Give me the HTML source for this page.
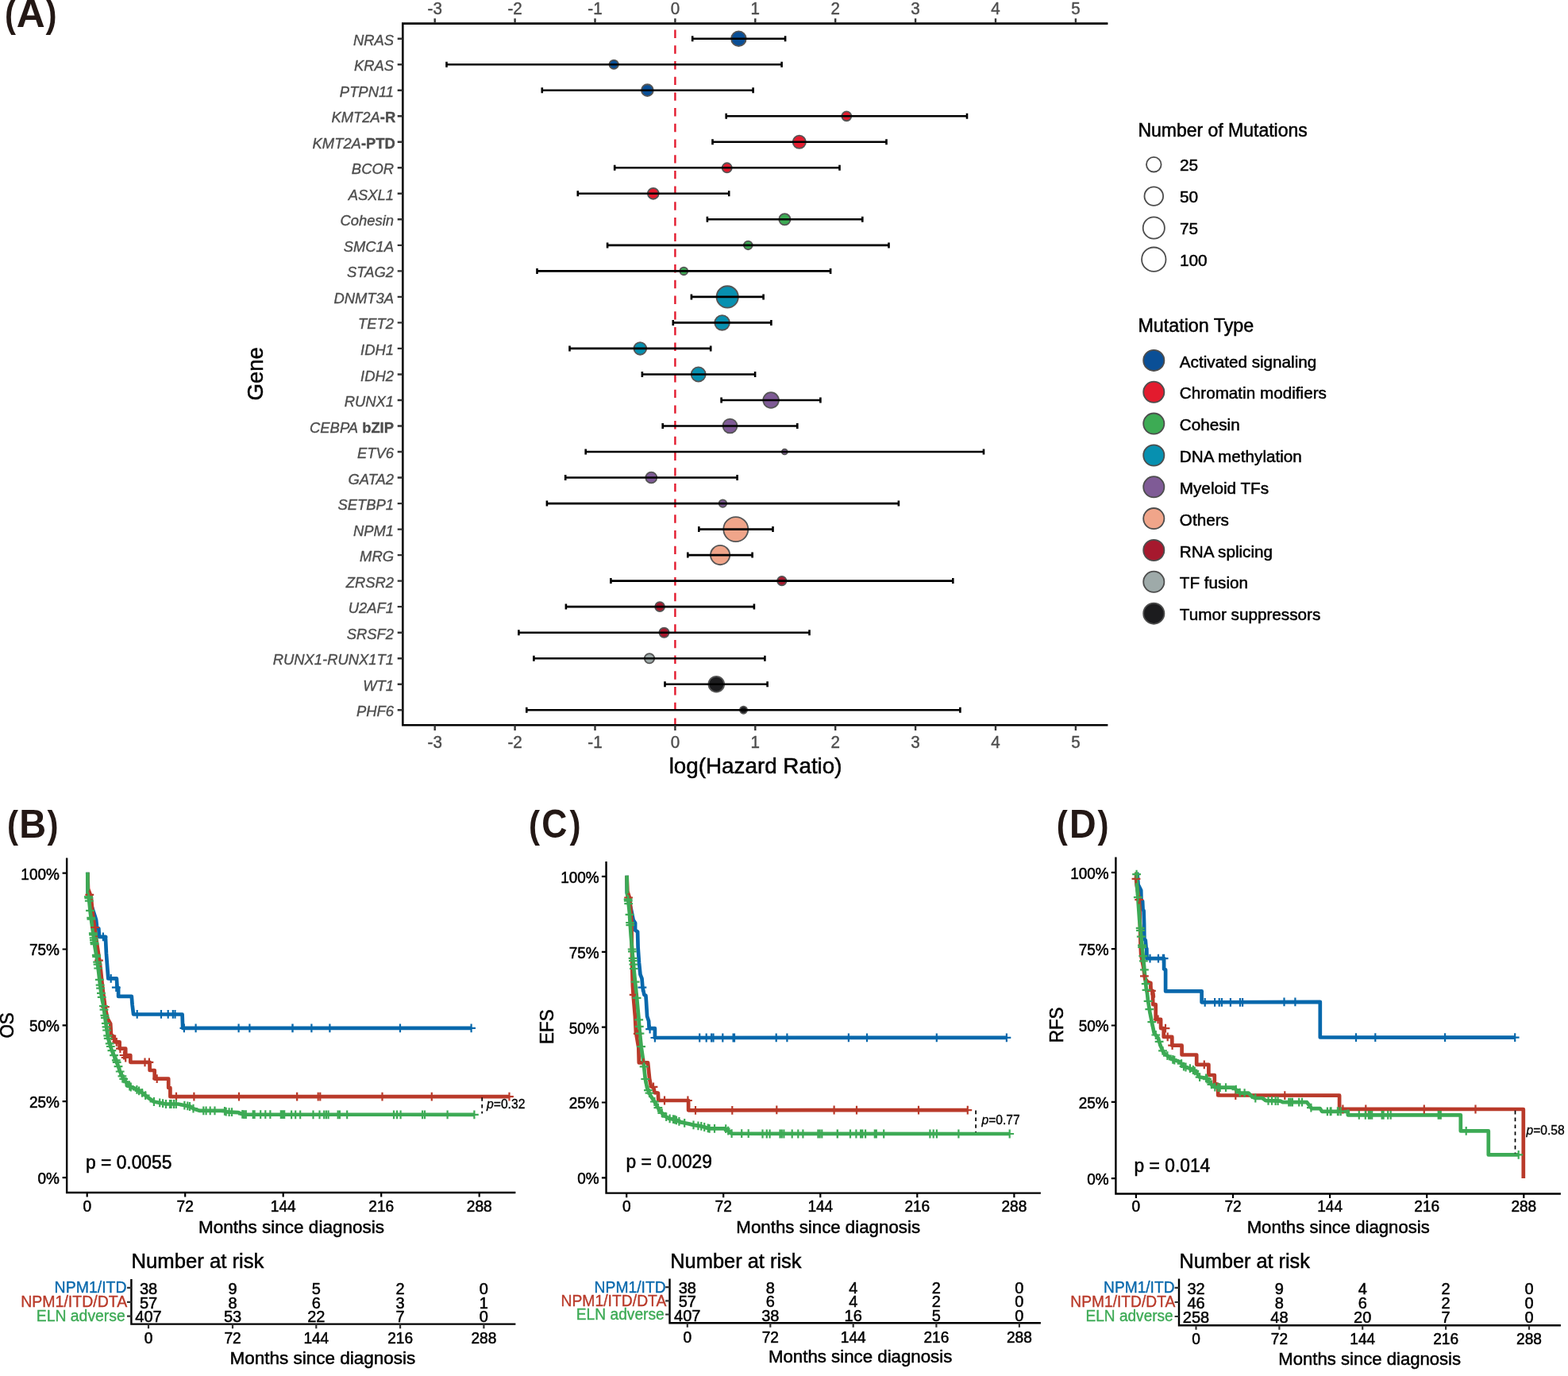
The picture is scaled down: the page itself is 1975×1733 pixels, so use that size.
<!DOCTYPE html>
<html lang="en">
<head>
<meta charset="utf-8">
<title>Figure: mutation hazard ratios and survival curves</title>
<style>
html,body{margin:0;padding:0;background:#fff;}
body{width:1975px;height:1733px;overflow:hidden;}
svg{display:block;font-family:"Liberation Sans", Arial, Helvetica, sans-serif;}
text{white-space:pre;}
</style>
</head>
<body>
<svg xmlns="http://www.w3.org/2000/svg" width="1975" height="1733" viewBox="0 0 1975 1733">
<rect width="1975" height="1733" fill="#fff"/>
<g id="forest">
<line x1="850.4" y1="29.6" x2="850.4" y2="913.2" stroke="#E31B2E" stroke-width="2.4" stroke-dasharray="10.4 9.3" stroke-dashoffset="-8"/>
<circle cx="930.4" cy="48.7" r="9.35" fill="#0A4F96" stroke="#555" stroke-width="1.8"/>
<circle cx="773.2" cy="81.2" r="5.65" fill="#0A4F96" stroke="#555" stroke-width="1.8"/>
<circle cx="815.4" cy="113.7" r="7.45" fill="#0A4F96" stroke="#555" stroke-width="1.8"/>
<circle cx="1066.3" cy="146.3" r="5.95" fill="#E31B2E" stroke="#555" stroke-width="1.8"/>
<circle cx="1006.8" cy="178.8" r="8.15" fill="#E31B2E" stroke="#555" stroke-width="1.8"/>
<circle cx="915.7" cy="211.3" r="6.05" fill="#E31B2E" stroke="#555" stroke-width="1.8"/>
<circle cx="822.8" cy="243.8" r="6.95" fill="#E31B2E" stroke="#555" stroke-width="1.8"/>
<circle cx="988.4" cy="276.3" r="7.15" fill="#3DAB54" stroke="#555" stroke-width="1.8"/>
<circle cx="942.3" cy="308.9" r="5.35" fill="#3DAB54" stroke="#555" stroke-width="1.8"/>
<circle cx="861.3" cy="341.4" r="4.85" fill="#3DAB54" stroke="#555" stroke-width="1.8"/>
<circle cx="916.2" cy="373.9" r="13.65" fill="#0790B0" stroke="#555" stroke-width="1.8"/>
<circle cx="909.6" cy="406.4" r="9.35" fill="#0790B0" stroke="#555" stroke-width="1.8"/>
<circle cx="806.3" cy="438.9" r="7.85" fill="#0790B0" stroke="#555" stroke-width="1.8"/>
<circle cx="879.7" cy="471.5" r="9.05" fill="#0790B0" stroke="#555" stroke-width="1.8"/>
<circle cx="971.1" cy="504.0" r="9.85" fill="#7F5B96" stroke="#555" stroke-width="1.8"/>
<circle cx="919.5" cy="536.5" r="8.95" fill="#7F5B96" stroke="#555" stroke-width="1.8"/>
<circle cx="988.3" cy="569.0" r="3.45" fill="#7F5B96" stroke="#555" stroke-width="1.8"/>
<circle cx="820.3" cy="601.5" r="6.95" fill="#7F5B96" stroke="#555" stroke-width="1.8"/>
<circle cx="910.4" cy="634.1" r="4.75" fill="#7F5B96" stroke="#555" stroke-width="1.8"/>
<circle cx="926.8" cy="666.6" r="15.55" fill="#F0A58A" stroke="#555" stroke-width="1.8"/>
<circle cx="907.1" cy="699.1" r="12.15" fill="#F0A58A" stroke="#555" stroke-width="1.8"/>
<circle cx="984.8" cy="731.6" r="5.75" fill="#A6192E" stroke="#555" stroke-width="1.8"/>
<circle cx="831.1" cy="764.1" r="5.95" fill="#A6192E" stroke="#555" stroke-width="1.8"/>
<circle cx="836.5" cy="796.7" r="6.15" fill="#A6192E" stroke="#555" stroke-width="1.8"/>
<circle cx="818.0" cy="829.2" r="6.15" fill="#9EAAA9" stroke="#555" stroke-width="1.8"/>
<circle cx="902.3" cy="861.7" r="9.85" fill="#1C1C1E" stroke="#555" stroke-width="1.8"/>
<circle cx="936.5" cy="894.2" r="4.55" fill="#1C1C1E" stroke="#555" stroke-width="1.8"/>
<path d="M872.2 48.7H989.1M872.2 45.2V52.2M989.1 45.2V52.2M562.5 81.2H984.6M562.5 77.7V84.7M984.6 77.7V84.7M682.8 113.7H948.6M682.8 110.2V117.2M948.6 110.2V117.2M914.7 146.3H1218.0M914.7 142.8V149.8M1218.0 142.8V149.8M897.5 178.8H1116.5M897.5 175.3V182.3M1116.5 175.3V182.3M774.2 211.3H1057.5M774.2 207.8V214.8M1057.5 207.8V214.8M727.8 243.8H918.2M727.8 240.3V247.3M918.2 240.3V247.3M890.9 276.3H1086.3M890.9 272.8V279.8M1086.3 272.8V279.8M765.1 308.9H1119.5M765.1 305.4V312.4M1119.5 305.4V312.4M676.5 341.4H1046.1M676.5 337.9V344.9M1046.1 337.9V344.9M870.9 373.9H961.6M870.9 370.4V377.4M961.6 370.4V377.4M847.8 406.4H971.4M847.8 402.9V409.9M971.4 402.9V409.9M717.5 438.9H895.2M717.5 435.4V442.4M895.2 435.4V442.4M808.9 471.5H951.1M808.9 468.0V475.0M951.1 468.0V475.0M908.6 504.0H1033.4M908.6 500.5V507.5M1033.4 500.5V507.5M834.7 536.5H1004.3M834.7 533.0V540.0M1004.3 533.0V540.0M737.7 569.0H1239.0M737.7 565.5V572.5M1239.0 565.5V572.5M712.2 601.5H928.6M712.2 598.0V605.0M928.6 598.0V605.0M688.9 634.1H1131.9M688.9 630.6V637.6M1131.9 630.6V637.6M880.3 666.6H973.5M880.3 663.1V670.1M973.5 663.1V670.1M866.3 699.1H947.6M866.3 695.6V702.6M947.6 695.6V702.6M769.4 731.6H1200.3M769.4 728.1V735.1M1200.3 728.1V735.1M712.9 764.1H949.9M712.9 760.6V767.6M949.9 760.6V767.6M653.4 796.7H1019.5M653.4 793.2V800.2M1019.5 793.2V800.2M672.4 829.2H963.4M672.4 825.7V832.7M963.4 825.7V832.7M837.5 861.7H966.6M837.5 858.2V865.2M966.6 858.2V865.2M663.3 894.2H1209.4M663.3 890.7V897.7M1209.4 890.7V897.7" fill="none" stroke="#000" stroke-width="2.6"/>
<path d="M1395.4 29.6H507.3V913.2H1395.4" fill="none" stroke="#000" stroke-width="2.6" stroke-linejoin="miter"/>
<path d="M547.7 29.6V23.2M547.7 913.2V920.1M648.6 29.6V23.2M648.6 913.2V920.1M749.5 29.6V23.2M749.5 913.2V920.1M850.4 29.6V23.2M850.4 913.2V920.1M951.3 29.6V23.2M951.3 913.2V920.1M1052.2 29.6V23.2M1052.2 913.2V920.1M1153.1 29.6V23.2M1153.1 913.2V920.1M1254.0 29.6V23.2M1254.0 913.2V920.1M1354.9 29.6V23.2M1354.9 913.2V920.1M507.3 48.7H500.7M507.3 81.2H500.7M507.3 113.7H500.7M507.3 146.3H500.7M507.3 178.8H500.7M507.3 211.3H500.7M507.3 243.8H500.7M507.3 276.3H500.7M507.3 308.9H500.7M507.3 341.4H500.7M507.3 373.9H500.7M507.3 406.4H500.7M507.3 438.9H500.7M507.3 471.5H500.7M507.3 504.0H500.7M507.3 536.5H500.7M507.3 569.0H500.7M507.3 601.5H500.7M507.3 634.1H500.7M507.3 666.6H500.7M507.3 699.1H500.7M507.3 731.6H500.7M507.3 764.1H500.7M507.3 796.7H500.7M507.3 829.2H500.7M507.3 861.7H500.7M507.3 894.2H500.7" fill="none" stroke="#333" stroke-width="2.4"/>
<text transform="translate(547.7 18.1) scale(1.0 1.04)" font-size="20.6" text-anchor="middle" fill="#4D4D4D" stroke="#4D4D4D" stroke-width="0.4">-3</text>
<text transform="translate(547.7 942.0) scale(1.0 1.04)" font-size="20.6" text-anchor="middle" fill="#4D4D4D" stroke="#4D4D4D" stroke-width="0.4">-3</text>
<text transform="translate(648.6 18.1) scale(1.0 1.04)" font-size="20.6" text-anchor="middle" fill="#4D4D4D" stroke="#4D4D4D" stroke-width="0.4">-2</text>
<text transform="translate(648.6 942.0) scale(1.0 1.04)" font-size="20.6" text-anchor="middle" fill="#4D4D4D" stroke="#4D4D4D" stroke-width="0.4">-2</text>
<text transform="translate(749.5 18.1) scale(1.0 1.04)" font-size="20.6" text-anchor="middle" fill="#4D4D4D" stroke="#4D4D4D" stroke-width="0.4">-1</text>
<text transform="translate(749.5 942.0) scale(1.0 1.04)" font-size="20.6" text-anchor="middle" fill="#4D4D4D" stroke="#4D4D4D" stroke-width="0.4">-1</text>
<text transform="translate(850.4 18.1) scale(1.0 1.04)" font-size="20.6" text-anchor="middle" fill="#4D4D4D" stroke="#4D4D4D" stroke-width="0.4">0</text>
<text transform="translate(850.4 942.0) scale(1.0 1.04)" font-size="20.6" text-anchor="middle" fill="#4D4D4D" stroke="#4D4D4D" stroke-width="0.4">0</text>
<text transform="translate(951.3 18.1) scale(1.0 1.04)" font-size="20.6" text-anchor="middle" fill="#4D4D4D" stroke="#4D4D4D" stroke-width="0.4">1</text>
<text transform="translate(951.3 942.0) scale(1.0 1.04)" font-size="20.6" text-anchor="middle" fill="#4D4D4D" stroke="#4D4D4D" stroke-width="0.4">1</text>
<text transform="translate(1052.2 18.1) scale(1.0 1.04)" font-size="20.6" text-anchor="middle" fill="#4D4D4D" stroke="#4D4D4D" stroke-width="0.4">2</text>
<text transform="translate(1052.2 942.0) scale(1.0 1.04)" font-size="20.6" text-anchor="middle" fill="#4D4D4D" stroke="#4D4D4D" stroke-width="0.4">2</text>
<text transform="translate(1153.1 18.1) scale(1.0 1.04)" font-size="20.6" text-anchor="middle" fill="#4D4D4D" stroke="#4D4D4D" stroke-width="0.4">3</text>
<text transform="translate(1153.1 942.0) scale(1.0 1.04)" font-size="20.6" text-anchor="middle" fill="#4D4D4D" stroke="#4D4D4D" stroke-width="0.4">3</text>
<text transform="translate(1254.0 18.1) scale(1.0 1.04)" font-size="20.6" text-anchor="middle" fill="#4D4D4D" stroke="#4D4D4D" stroke-width="0.4">4</text>
<text transform="translate(1254.0 942.0) scale(1.0 1.04)" font-size="20.6" text-anchor="middle" fill="#4D4D4D" stroke="#4D4D4D" stroke-width="0.4">4</text>
<text transform="translate(1354.9 18.1) scale(1.0 1.04)" font-size="20.6" text-anchor="middle" fill="#4D4D4D" stroke="#4D4D4D" stroke-width="0.4">5</text>
<text transform="translate(1354.9 942.0) scale(1.0 1.04)" font-size="20.6" text-anchor="middle" fill="#4D4D4D" stroke="#4D4D4D" stroke-width="0.4">5</text>
<g font-size="18.4" fill="#4D4D4D" text-anchor="end" stroke="#4D4D4D" stroke-width="0.35">
<text x="496.0" y="56.7" xml:space="preserve"><tspan font-style="italic">NRAS</tspan></text>
<text x="496.0" y="89.2" xml:space="preserve"><tspan font-style="italic">KRAS</tspan></text>
<text x="496.0" y="121.7" xml:space="preserve"><tspan font-style="italic">PTPN11</tspan></text>
<text x="498.2" y="154.3" xml:space="preserve"><tspan font-style="italic">KMT2A</tspan><tspan font-weight="bold">-R</tspan></text>
<text x="497.8" y="186.8" xml:space="preserve"><tspan font-style="italic">KMT2A</tspan><tspan font-weight="bold">-PTD</tspan></text>
<text x="496.0" y="219.3" xml:space="preserve"><tspan font-style="italic">BCOR</tspan></text>
<text x="496.0" y="251.8" xml:space="preserve"><tspan font-style="italic">ASXL1</tspan></text>
<text x="496.0" y="284.3" xml:space="preserve"><tspan font-style="italic">Cohesin</tspan></text>
<text x="496.0" y="316.9" xml:space="preserve"><tspan font-style="italic">SMC1A</tspan></text>
<text x="496.0" y="349.4" xml:space="preserve"><tspan font-style="italic">STAG2</tspan></text>
<text x="496.0" y="381.9" xml:space="preserve"><tspan font-style="italic">DNMT3A</tspan></text>
<text x="496.0" y="414.4" xml:space="preserve"><tspan font-style="italic">TET2</tspan></text>
<text x="496.0" y="446.9" xml:space="preserve"><tspan font-style="italic">IDH1</tspan></text>
<text x="496.0" y="479.5" xml:space="preserve"><tspan font-style="italic">IDH2</tspan></text>
<text x="496.0" y="512.0" xml:space="preserve"><tspan font-style="italic">RUNX1</tspan></text>
<text x="496.0" y="544.5" xml:space="preserve"><tspan font-style="italic">CEBPA</tspan><tspan font-weight="bold"> bZIP</tspan></text>
<text x="496.0" y="577.0" xml:space="preserve"><tspan font-style="italic">ETV6</tspan></text>
<text x="496.0" y="609.5" xml:space="preserve"><tspan font-style="italic">GATA2</tspan></text>
<text x="496.0" y="642.1" xml:space="preserve"><tspan font-style="italic">SETBP1</tspan></text>
<text x="496.0" y="674.6" xml:space="preserve"><tspan font-style="italic">NPM1</tspan></text>
<text x="496.0" y="707.1" xml:space="preserve"><tspan font-style="italic">MRG</tspan></text>
<text x="496.0" y="739.6" xml:space="preserve"><tspan font-style="italic">ZRSR2</tspan></text>
<text x="496.0" y="772.1" xml:space="preserve"><tspan font-style="italic">U2AF1</tspan></text>
<text x="496.0" y="804.7" xml:space="preserve"><tspan font-style="italic">SRSF2</tspan></text>
<text x="496.0" y="837.2" xml:space="preserve"><tspan font-style="italic">RUNX1-RUNX1T1</tspan></text>
<text x="496.0" y="869.7" xml:space="preserve"><tspan font-style="italic">WT1</tspan></text>
<text x="496.0" y="902.2" xml:space="preserve"><tspan font-style="italic">PHF6</tspan></text>
</g>
<text x="951.6" y="974.1" font-size="27.8" text-anchor="middle" fill="#000" stroke="#000" stroke-width="0.5">log(Hazard Ratio)</text>
<text transform="translate(330.6 470.8) rotate(-90)" font-size="27.6" text-anchor="middle" fill="#000" stroke="#000" stroke-width="0.5">Gene</text>
</g>
<g id="legend" fill="#000">
<text transform="translate(1433.4 171.9) scale(1.0 1.06)" font-size="23.0" fill="#000" stroke="#000" stroke-width="0.5">Number of Mutations</text>
<circle cx="1453.3" cy="207.2" r="9.3" fill="#fff" stroke="#4D4D4D" stroke-width="1.8"/>
<text x="1485.9" y="215.1" font-size="20.8" fill="#000" stroke="#000" stroke-width="0.5">25</text>
<circle cx="1453.3" cy="247.1" r="11.8" fill="#fff" stroke="#4D4D4D" stroke-width="1.8"/>
<text x="1485.9" y="255.0" font-size="20.8" fill="#000" stroke="#000" stroke-width="0.5">50</text>
<circle cx="1453.3" cy="287.0" r="13.6" fill="#fff" stroke="#4D4D4D" stroke-width="1.8"/>
<text x="1485.9" y="294.9" font-size="20.8" fill="#000" stroke="#000" stroke-width="0.5">75</text>
<circle cx="1453.3" cy="326.7" r="15.2" fill="#fff" stroke="#4D4D4D" stroke-width="1.8"/>
<text x="1485.9" y="334.6" font-size="20.8" fill="#000" stroke="#000" stroke-width="0.5">100</text>
<text transform="translate(1433.4 418.4) scale(1.0 1.06)" font-size="23.3" fill="#000" stroke="#000" stroke-width="0.5">Mutation Type</text>
<circle cx="1453.3" cy="453.9" r="13.1" fill="#0A4F96" stroke="#4D4D4D" stroke-width="1.8"/>
<text x="1485.8" y="462.5" font-size="20.7" fill="#000" stroke="#000" stroke-width="0.5">Activated signaling</text>
<circle cx="1453.3" cy="493.8" r="13.1" fill="#E31B2E" stroke="#4D4D4D" stroke-width="1.8"/>
<text x="1485.8" y="502.4" font-size="20.7" fill="#000" stroke="#000" stroke-width="0.5">Chromatin modifiers</text>
<circle cx="1453.3" cy="533.6" r="13.1" fill="#3DAB54" stroke="#4D4D4D" stroke-width="1.8"/>
<text x="1485.8" y="542.2" font-size="20.7" fill="#000" stroke="#000" stroke-width="0.5">Cohesin</text>
<circle cx="1453.3" cy="573.5" r="13.1" fill="#0790B0" stroke="#4D4D4D" stroke-width="1.8"/>
<text x="1485.8" y="582.1" font-size="20.7" fill="#000" stroke="#000" stroke-width="0.5">DNA methylation</text>
<circle cx="1453.3" cy="613.3" r="13.1" fill="#7F5B96" stroke="#4D4D4D" stroke-width="1.8"/>
<text x="1485.8" y="621.9" font-size="20.7" fill="#000" stroke="#000" stroke-width="0.5">Myeloid TFs</text>
<circle cx="1453.3" cy="653.1" r="13.1" fill="#F0A58A" stroke="#4D4D4D" stroke-width="1.8"/>
<text x="1485.8" y="661.8" font-size="20.7" fill="#000" stroke="#000" stroke-width="0.5">Others</text>
<circle cx="1453.3" cy="693.0" r="13.1" fill="#A6192E" stroke="#4D4D4D" stroke-width="1.8"/>
<text x="1485.8" y="701.6" font-size="20.7" fill="#000" stroke="#000" stroke-width="0.5">RNA splicing</text>
<circle cx="1453.3" cy="732.8" r="13.1" fill="#9EAAA9" stroke="#4D4D4D" stroke-width="1.8"/>
<text x="1485.8" y="741.4" font-size="20.7" fill="#000" stroke="#000" stroke-width="0.5">TF fusion</text>
<circle cx="1453.3" cy="772.7" r="13.1" fill="#1C1C1E" stroke="#4D4D4D" stroke-width="1.8"/>
<text x="1485.8" y="781.3" font-size="20.7" fill="#000" stroke="#000" stroke-width="0.5">Tumor suppressors</text>
</g>
<text transform="translate(6.00 33.86) scale(0.4216 0.4742)" font-size="100" font-weight="bold" fill="#231815">(</text>
<text transform="translate(20.76 33.70) scale(0.4978 0.4942)" font-size="100" font-weight="bold" fill="#231815">A</text>
<text transform="translate(57.46 33.86) scale(0.4216 0.4742)" font-size="100" font-weight="bold" fill="#231815">)</text>
<g id="panelB">
<path d="M110.3 1098.8L110.6 1124.3L114.7 1139.1L119.6 1153.8L121.1 1158.7L122.1 1168.5L124.3 1169.5L125.0 1179.8L132.9 1179.8L133.9 1200.9L134.8 1212.7L136.3 1232.3L146.9 1232.3L147.6 1243.1L149.1 1244.1L149.1 1254.9L165.8 1254.9L166.6 1265.3L168.1 1277.5L229.6 1277.5L230.2 1294.8L594.0 1294.8" fill="none" stroke="#0868AC" stroke-width="4.7" stroke-linejoin="round" stroke-linecap="butt"/>
<path d="M110.3 1098.8L111.0 1119.4L114.7 1129.3L116.5 1148.9L118.6 1163.6L120.6 1178.3L122.8 1193.0L125.0 1207.8L127.0 1222.5L128.5 1237.2L130.2 1251.9L131.4 1260.1L132.4 1268.2L135.4 1282.7L139.2 1289.5L140.0 1303.2L143.8 1306.2L144.6 1312.3L150.6 1312.3L150.6 1320.6L158.2 1320.6L158.2 1329.0L164.3 1329.0L164.3 1337.8L188.6 1337.8L188.6 1348.0L194.7 1348.0L194.7 1358.6L212.2 1358.6L212.2 1370.0L214.4 1370.0L214.4 1381.2L641.5 1381.2" fill="none" stroke="#B93A2A" stroke-width="4.7" stroke-linejoin="round" stroke-linecap="butt"/>
<path d="M110.3 1098.8L110.6 1124.3L112.3 1134.2L113.7 1148.9L115.7 1163.6L117.7 1178.3L119.6 1193.0L122.1 1207.8L124.0 1222.5L125.7 1237.2L127.5 1251.9L128.9 1260.1L130.1 1265.2L133.2 1288.0L136.2 1307.7L140.8 1322.9L146.8 1336.6L151.4 1350.3L156.0 1359.4L163.5 1368.5L171.1 1371.5L178.7 1376.1L186.3 1382.2L193.9 1387.5L201.5 1389.0L209.1 1390.5L224.3 1390.5L231.9 1392.0L239.5 1393.6L244.1 1396.6L251.7 1398.9L282.0 1398.9L285.1 1400.4L300.3 1401.1L306.3 1403.7L597.4 1403.8" fill="none" stroke="#3DAA55" stroke-width="4.7" stroke-linejoin="round" stroke-linecap="butt"/>
<path d="M129.9 1174.4V1185.2M124.5 1179.8H135.3M139.7 1226.9V1237.7M134.3 1232.3H145.1M146.3 1238.2V1249.0M140.9 1243.6H151.7M172.7 1271.9V1282.7M167.3 1277.3H178.1M203.0 1271.9V1282.7M197.6 1277.3H208.4M211.7 1271.9V1282.7M206.3 1277.3H217.1M217.8 1271.9V1282.7M212.4 1277.3H223.2M220.5 1271.9V1282.7M215.1 1277.3H225.9M231.9 1289.4V1300.2M226.5 1294.8H237.3M246.6 1289.4V1300.2M241.2 1294.8H252.0M300.6 1289.4V1300.2M295.2 1294.8H306.0M314.4 1289.4V1300.2M309.0 1294.8H319.8M368.6 1289.4V1300.2M363.2 1294.8H374.0M368.4 1289.4V1300.2M363.0 1294.8H373.8M392.4 1289.4V1300.2M387.0 1294.8H397.8M415.4 1289.4V1300.2M410.0 1294.8H420.8M504.0 1289.4V1300.2M498.6 1294.8H509.4M593.6 1289.4V1300.2M588.2 1294.8H599.0" fill="none" stroke="#0868AC" stroke-width="2.2"/>
<path d="M112.8 1121.4V1132.2M107.4 1126.8H118.2M119.6 1162.6V1173.4M114.2 1168.0H125.0M124.5 1204.3V1215.1M119.1 1209.7H129.9M132.4 1262.8V1273.6M127.0 1268.2H137.8M140.8 1299.3V1310.1M135.4 1304.7H146.2M146.8 1306.9V1317.7M141.4 1312.3H152.2M151.4 1315.2V1326.0M146.0 1320.6H156.8M156.0 1323.6V1334.4M150.6 1329.0H161.4M158.2 1326.6V1337.4M152.8 1332.0H163.6M182.5 1332.4V1343.2M177.1 1337.8H187.9M187.9 1332.4V1343.2M182.5 1337.8H193.3M197.7 1353.2V1364.0M192.3 1358.6H203.1M222.0 1375.8V1386.6M216.6 1381.2H227.4M244.4 1375.8V1386.6M239.0 1381.2H249.8M301.0 1375.8V1386.6M295.6 1381.2H306.4M374.2 1375.8V1386.6M368.8 1381.2H379.6M374.1 1375.7V1386.5M368.7 1381.1H379.5M400.7 1375.7V1386.5M395.3 1381.1H406.1M403.3 1375.7V1386.5M397.9 1381.1H408.7M481.5 1375.7V1386.5M476.1 1381.1H486.9M543.8 1375.7V1386.5M538.4 1381.1H549.2M641.5 1375.7V1386.5M636.1 1381.1H646.9" fill="none" stroke="#B93A2A" stroke-width="2.2"/>
<path d="M111.4 1123.9V1134.7M106.0 1129.3H116.8M111.8 1125.8V1136.6M106.4 1131.2H117.2M112.3 1129.3V1140.1M106.9 1134.7H117.7M113.5 1141.5V1152.3M108.1 1146.9H118.9M114.7 1150.4V1161.2M109.3 1155.8H120.1M114.9 1152.3V1163.1M109.5 1157.7H120.3M117.3 1170.0V1180.8M111.9 1175.4H122.7M117.5 1171.9V1182.7M112.1 1177.3H122.9M118.1 1175.9V1186.7M112.7 1181.3H123.5M118.4 1178.8V1189.6M113.0 1184.2H123.8M118.8 1181.8V1192.6M113.4 1187.2H124.2M119.1 1183.7V1194.5M113.7 1189.1H124.5M121.3 1197.5V1208.3M115.9 1202.9H126.7M121.6 1199.4V1210.2M116.2 1204.8H127.0M122.6 1206.3V1217.1M117.2 1211.7H128.0M123.0 1209.2V1220.0M117.6 1214.6H128.4M123.7 1214.1V1224.9M118.3 1219.5H129.1M125.3 1228.4V1239.2M119.9 1233.8H130.7M126.1 1235.2V1246.0M120.7 1240.6H131.5M126.6 1239.2V1250.0M121.2 1244.6H132.0M127.4 1245.5V1256.3M122.0 1250.9H132.8M128.2 1250.4V1261.2M122.8 1255.8H133.6M130.4 1261.8V1272.6M125.0 1267.2H135.8M131.0 1266.3V1277.1M125.6 1271.7H136.4M131.9 1273.4V1284.2M126.5 1278.8H137.3M132.4 1276.5V1287.3M127.0 1281.9H137.8M133.3 1283.4V1294.2M127.9 1288.8H138.7M134.0 1288.0V1298.8M128.6 1293.4H139.4M134.6 1292.1V1302.9M129.2 1297.5H140.0M135.7 1298.9V1309.7M130.3 1304.3H141.1M136.2 1302.4V1313.2M130.8 1307.8H141.6M138.2 1308.9V1319.7M132.8 1314.3H143.6M139.3 1312.6V1323.4M133.9 1318.0H144.7M140.9 1317.8V1328.6M135.5 1323.2H146.3M143.5 1323.7V1334.5M138.1 1329.1H148.9M146.3 1329.9V1340.7M140.9 1335.3H151.7M147.2 1332.4V1343.2M141.8 1337.8H152.6M149.0 1337.7V1348.5M143.6 1343.1H154.4M151.2 1344.1V1354.9M145.8 1349.5H156.6M153.9 1349.9V1360.7M148.5 1355.3H159.3M155.7 1353.4V1364.2M150.3 1358.8H161.1M158.5 1357.0V1367.8M153.1 1362.4H163.9M163.3 1362.7V1373.5M157.9 1368.1H168.7M164.8 1363.6V1374.4M159.4 1369.0H170.2M172.4 1366.9V1377.7M167.0 1372.3H177.8M175.1 1368.5V1379.3M169.7 1373.9H180.5M179.1 1371.0V1381.8M173.7 1376.4H184.5M183.2 1374.2V1385.0M177.8 1379.6H188.6M193.9 1382.1V1392.9M188.5 1387.5H199.3M201.2 1383.5V1394.3M195.8 1388.9H206.6M205.1 1384.3V1395.1M199.7 1389.7H210.5M209.0 1385.1V1395.9M203.6 1390.5H214.4M214.0 1385.1V1395.9M208.6 1390.5H219.4M215.6 1385.1V1395.9M210.2 1390.5H221.0M219.0 1385.1V1395.9M213.6 1390.5H224.4M221.8 1385.1V1395.9M216.4 1390.5H227.2M232.4 1386.7V1397.5M227.0 1392.1H237.8M236.3 1387.5V1398.3M230.9 1392.9H241.7M239.0 1388.1V1398.9M233.6 1393.5H244.4M243.5 1390.8V1401.6M238.1 1396.2H248.9M256.3 1393.5V1404.3M250.9 1398.9H261.7M259.6 1393.5V1404.3M254.2 1398.9H265.0M264.7 1393.5V1404.3M259.3 1398.9H270.1M270.5 1393.5V1404.3M265.1 1398.9H275.9M283.0 1394.0V1404.8M277.6 1399.4H288.4M284.7 1394.8V1405.6M279.3 1400.2H290.1M288.6 1395.2V1406.0M283.2 1400.6H294.0M292.0 1395.3V1406.1M286.6 1400.7H297.4M305.3 1397.9V1408.7M299.9 1403.3H310.7M307.5 1398.3V1409.1M302.1 1403.7H312.9M309.8 1398.3V1409.1M304.4 1403.7H315.2M318.7 1398.3V1409.1M313.3 1403.7H324.1M320.6 1398.3V1409.1M315.2 1403.7H326.0M328.2 1398.3V1409.1M322.8 1403.7H333.6M334.3 1398.3V1409.1M328.9 1403.7H339.7M340.4 1398.3V1409.1M335.0 1403.7H345.8M353.8 1398.3V1409.1M348.4 1403.7H359.2M356.0 1398.3V1409.1M350.6 1403.7H361.4M358.2 1398.3V1409.1M352.8 1403.7H363.6M367.1 1398.5V1409.3M361.7 1403.9H372.5M372.2 1398.5V1409.3M366.8 1403.9H377.6M378.2 1398.5V1409.3M372.8 1403.9H383.6M394.5 1398.5V1409.3M389.1 1403.9H399.9M402.5 1398.5V1409.3M397.1 1403.9H407.9M408.2 1398.5V1409.3M402.8 1403.9H413.6M410.9 1398.5V1409.3M405.5 1403.9H416.3M413.6 1398.5V1409.3M408.2 1403.9H419.0M425.6 1398.5V1409.3M420.2 1403.9H431.0M427.9 1398.5V1409.3M422.5 1403.9H433.3M437.2 1398.5V1409.3M431.8 1403.9H442.6M496.0 1398.5V1409.3M490.6 1403.9H501.4M500.1 1398.5V1409.3M494.7 1403.9H505.5M504.6 1398.5V1409.3M499.2 1403.9H510.0M532.1 1398.5V1409.3M526.7 1403.9H537.5M535.0 1398.5V1409.3M529.6 1403.9H540.4M563.6 1398.5V1409.3M558.2 1403.9H569.0M597.4 1398.5V1409.3M592.0 1403.9H602.8" fill="none" stroke="#3DAA55" stroke-width="2.2"/>
<path d="M84.15 1080.4V1502.0H649.4" fill="none" stroke="#000" stroke-width="2.4" stroke-linejoin="miter"/>
<path d="M84.15 1483.1H78.6M84.15 1387.2H78.6M84.15 1291.3H78.6M84.15 1195.5H78.6M84.15 1099.6H78.6M109.7 1502.0V1507.6M233.2 1502.0V1507.6M356.7 1502.0V1507.6M480.2 1502.0V1507.6M603.7 1502.0V1507.6" fill="none" stroke="#000" stroke-width="2.2"/>
<text transform="translate(74.89999999999999 1491.0) scale(1.0 1.06)" font-size="19.0" text-anchor="end" fill="#000" stroke="#000" stroke-width="0.5">0%</text>
<text transform="translate(74.89999999999999 1395.1) scale(1.0 1.06)" font-size="19.0" text-anchor="end" fill="#000" stroke="#000" stroke-width="0.5">25%</text>
<text transform="translate(74.89999999999999 1299.2) scale(1.0 1.06)" font-size="19.0" text-anchor="end" fill="#000" stroke="#000" stroke-width="0.5">50%</text>
<text transform="translate(74.89999999999999 1203.4) scale(1.0 1.06)" font-size="19.0" text-anchor="end" fill="#000" stroke="#000" stroke-width="0.5">75%</text>
<text transform="translate(74.89999999999999 1107.5) scale(1.0 1.06)" font-size="19.0" text-anchor="end" fill="#000" stroke="#000" stroke-width="0.5">100%</text>
<text transform="translate(109.7 1526.2) scale(1.0 1.06)" font-size="19.1" text-anchor="middle" fill="#000" stroke="#000" stroke-width="0.5">0</text>
<text transform="translate(233.2 1526.2) scale(1.0 1.06)" font-size="19.1" text-anchor="middle" fill="#000" stroke="#000" stroke-width="0.5">72</text>
<text transform="translate(356.7 1526.2) scale(1.0 1.06)" font-size="19.1" text-anchor="middle" fill="#000" stroke="#000" stroke-width="0.5">144</text>
<text transform="translate(480.2 1526.2) scale(1.0 1.06)" font-size="19.1" text-anchor="middle" fill="#000" stroke="#000" stroke-width="0.5">216</text>
<text transform="translate(603.7 1526.2) scale(1.0 1.06)" font-size="19.1" text-anchor="middle" fill="#000" stroke="#000" stroke-width="0.5">288</text>
<text transform="translate(367.0 1553.0) scale(1.0 1.0001)" font-size="22.5" text-anchor="middle" fill="#000" stroke="#000" stroke-width="0.5">Months since diagnosis</text>
<text transform="translate(16.9 1291.4) rotate(-90) scale(1.0 1.05)" font-size="22.4" text-anchor="middle" fill="#000" stroke="#000" stroke-width="0.5">OS</text>
<text transform="translate(108.0 1471.6) scale(1.0 1.04)" font-size="22.8" fill="#000" stroke="#000" stroke-width="0.5">p = 0.0055</text>
<line x1="607.2" y1="1382.2" x2="607.2" y2="1402.4" stroke="#000" stroke-width="1.7" stroke-dasharray="4.6 4.2"/>
<text x="613.0" y="1395.6" font-size="15.7" fill="#000" stroke="#000" stroke-width="0.3"><tspan font-style="italic">p</tspan>=0.32</text>
<text transform="translate(165.4 1596.6) scale(1.0 1.0001)" font-size="25.7" fill="#000" stroke="#000" stroke-width="0.5">Number at risk</text>
<path d="M165.4 1611.0V1667.6H649.4" fill="none" stroke="#000" stroke-width="2.4" stroke-linejoin="miter"/>
<path d="M165.4 1621.8H160.0M165.4 1639.8H160.0M165.4 1657.6H160.0M187.0 1667.6V1673.2M293.0 1667.6V1673.2M398.3 1667.6V1673.2M504.1 1667.6V1673.2M609.4 1667.6V1673.2" fill="none" stroke="#333" stroke-width="2.2"/>
<text transform="translate(159.6 1628.2) scale(1.0 1.05)" font-size="19.5" text-anchor="end" fill="#0868AC" stroke="#0868AC" stroke-width="0.35">NPM1/ITD</text>
<text transform="translate(160.4 1646.2) scale(1.0 1.05)" font-size="19.55" text-anchor="end" fill="#B93A2A" stroke="#B93A2A" stroke-width="0.35">NPM1/ITD/DTA</text>
<text transform="translate(157.8 1664.0) scale(1.0 1.0001)" font-size="19.4" text-anchor="end" fill="#3DAA55" stroke="#3DAA55" stroke-width="0.35">ELN adverse</text>
<text transform="translate(187.0 1629.9) scale(1.0 1.05)" font-size="20.0" text-anchor="middle" fill="#000" stroke="#000" stroke-width="0.5">38</text>
<text transform="translate(293.0 1629.9) scale(1.0 1.05)" font-size="20.0" text-anchor="middle" fill="#000" stroke="#000" stroke-width="0.5">9</text>
<text transform="translate(398.3 1629.9) scale(1.0 1.05)" font-size="20.0" text-anchor="middle" fill="#000" stroke="#000" stroke-width="0.5">5</text>
<text transform="translate(504.1 1629.9) scale(1.0 1.05)" font-size="20.0" text-anchor="middle" fill="#000" stroke="#000" stroke-width="0.5">2</text>
<text transform="translate(609.4 1629.9) scale(1.0 1.05)" font-size="20.0" text-anchor="middle" fill="#000" stroke="#000" stroke-width="0.5">0</text>
<text transform="translate(187.0 1648.1) scale(1.0 1.05)" font-size="20.0" text-anchor="middle" fill="#000" stroke="#000" stroke-width="0.5">57</text>
<text transform="translate(293.0 1648.1) scale(1.0 1.05)" font-size="20.0" text-anchor="middle" fill="#000" stroke="#000" stroke-width="0.5">8</text>
<text transform="translate(398.3 1648.1) scale(1.0 1.05)" font-size="20.0" text-anchor="middle" fill="#000" stroke="#000" stroke-width="0.5">6</text>
<text transform="translate(504.1 1648.1) scale(1.0 1.05)" font-size="20.0" text-anchor="middle" fill="#000" stroke="#000" stroke-width="0.5">3</text>
<text transform="translate(609.4 1648.1) scale(1.0 1.05)" font-size="20.0" text-anchor="middle" fill="#000" stroke="#000" stroke-width="0.5">1</text>
<text transform="translate(187.0 1665.3) scale(1.0 1.05)" font-size="20.0" text-anchor="middle" fill="#000" stroke="#000" stroke-width="0.5">407</text>
<text transform="translate(293.0 1665.3) scale(1.0 1.05)" font-size="20.0" text-anchor="middle" fill="#000" stroke="#000" stroke-width="0.5">53</text>
<text transform="translate(398.3 1665.3) scale(1.0 1.05)" font-size="20.0" text-anchor="middle" fill="#000" stroke="#000" stroke-width="0.5">22</text>
<text transform="translate(504.1 1665.3) scale(1.0 1.05)" font-size="20.0" text-anchor="middle" fill="#000" stroke="#000" stroke-width="0.5">7</text>
<text transform="translate(609.4 1665.3) scale(1.0 1.05)" font-size="20.0" text-anchor="middle" fill="#000" stroke="#000" stroke-width="0.5">0</text>
<text transform="translate(187.0 1691.6) scale(1.0 1.06)" font-size="19.1" text-anchor="middle" fill="#000" stroke="#000" stroke-width="0.5">0</text>
<text transform="translate(293.0 1691.6) scale(1.0 1.06)" font-size="19.1" text-anchor="middle" fill="#000" stroke="#000" stroke-width="0.5">72</text>
<text transform="translate(398.3 1691.6) scale(1.0 1.06)" font-size="19.1" text-anchor="middle" fill="#000" stroke="#000" stroke-width="0.5">144</text>
<text transform="translate(504.1 1691.6) scale(1.0 1.06)" font-size="19.1" text-anchor="middle" fill="#000" stroke="#000" stroke-width="0.5">216</text>
<text transform="translate(609.4 1691.6) scale(1.0 1.06)" font-size="19.1" text-anchor="middle" fill="#000" stroke="#000" stroke-width="0.5">288</text>
<text transform="translate(406.4 1717.7) scale(1.0 1.0001)" font-size="22.5" text-anchor="middle" fill="#000" stroke="#000" stroke-width="0.5">Months since diagnosis</text>
</g>
<text transform="translate(9.00 1054.96) scale(0.4216 0.4742)" font-size="100" font-weight="bold" fill="#231815">(</text>
<text transform="translate(24.16 1054.80) scale(0.4690 0.4942)" font-size="100" font-weight="bold" fill="#231815">B</text>
<text transform="translate(59.46 1054.96) scale(0.4216 0.4742)" font-size="100" font-weight="bold" fill="#231815">)</text>
<g id="panelC">
<path d="M789.6 1102.8L789.8 1124.3L792.3 1134.2L795.7 1148.9L797.7 1158.7L800.1 1162.6L800.1 1171.5L803.1 1173.4L803.6 1193.0L805.0 1212.7L806.5 1227.4L808.5 1232.3L809.4 1243.1L811.4 1252.9L813.4 1253.9L813.9 1260.1L815.1 1280.0L817.1 1285.9L817.6 1295.2L824.9 1295.2L824.9 1307.0L1267.9 1306.9" fill="none" stroke="#0868AC" stroke-width="4.7" stroke-linejoin="round" stroke-linecap="butt"/>
<path d="M789.6 1102.8L790.3 1122.4L793.2 1131.2L794.7 1148.9L795.5 1163.6L795.7 1178.3L795.9 1196.0L796.2 1212.7L796.5 1227.4L796.9 1242.1L797.9 1256.8L799.9 1280.0L800.9 1299.6L804.3 1319.3L804.8 1338.4L816.1 1338.4L818.1 1358.5L820.0 1368.3L823.5 1370.3L824.4 1376.2L828.9 1376.7L829.3 1386.0L867.1 1386.0L867.1 1398.3L1218.8 1398.1" fill="none" stroke="#B93A2A" stroke-width="4.7" stroke-linejoin="round" stroke-linecap="butt"/>
<path d="M789.6 1102.8L789.8 1124.3L791.3 1134.2L792.8 1148.9L793.7 1163.6L794.7 1178.3L796.2 1196.0L797.7 1212.7L799.1 1227.4L800.6 1242.1L802.1 1256.8L804.3 1280.0L805.8 1299.6L807.8 1319.3L810.7 1338.9L812.7 1358.5L815.1 1370.3L819.5 1380.1L825.4 1388.9L830.3 1397.8L836.2 1404.6L842.1 1408.6L850.0 1410.0L857.8 1413.5L867.6 1415.4L873.5 1416.9L883.3 1418.4L893.1 1421.3L913.7 1421.3L921.6 1427.7L1271.7 1428.0" fill="none" stroke="#3DAA55" stroke-width="4.7" stroke-linejoin="round" stroke-linecap="butt"/>
<path d="M808.9 1238.2V1249.0M803.5 1243.6H814.3M818.6 1290.8V1301.6M813.2 1296.2H824.0M824.9 1301.6V1312.4M819.5 1307.0H830.3M881.2 1301.6V1312.4M875.8 1307.0H886.6M889.7 1301.6V1312.4M884.3 1307.0H895.1M896.1 1301.6V1312.4M890.7 1307.0H901.5M898.5 1301.6V1312.4M893.1 1307.0H903.9M910.3 1301.6V1312.4M904.9 1307.0H915.7M923.6 1301.6V1312.4M918.2 1307.0H929.0M925.0 1301.6V1312.4M919.6 1307.0H930.4M977.7 1301.5V1312.3M972.3 1306.9H983.1M991.4 1301.5V1312.3M986.0 1306.9H996.8M1068.9 1301.5V1312.3M1063.5 1306.9H1074.3M1092.0 1301.5V1312.3M1086.6 1306.9H1097.4M1179.8 1301.5V1312.3M1174.4 1306.9H1185.2M1267.9 1301.5V1312.3M1262.5 1306.9H1273.3" fill="none" stroke="#0868AC" stroke-width="2.2"/>
<path d="M791.6 1125.1V1135.9M786.2 1130.5H797.0M798.2 1247.5V1258.3M792.8 1252.9H803.6M803.3 1296.4V1307.2M797.9 1301.8H808.7M810.7 1333.0V1343.8M805.3 1338.4H816.1M823.0 1363.4V1374.2M817.6 1368.8H828.4M837.0 1380.6V1391.4M831.6 1386.0H842.4M866.4 1380.6V1391.4M861.0 1386.0H871.8M876.0 1392.9V1403.7M870.6 1398.3H881.4M922.3 1392.9V1403.7M916.9 1398.3H927.7M978.3 1392.5V1403.3M972.9 1397.9H983.7M1050.6 1392.5V1403.3M1045.2 1397.9H1056.0M1050.6 1392.7V1403.5M1045.2 1398.1H1056.0M1079.0 1392.7V1403.5M1073.6 1398.1H1084.4M1157.0 1392.7V1403.5M1151.6 1398.1H1162.4M1218.8 1392.7V1403.5M1213.4 1398.1H1224.2" fill="none" stroke="#B93A2A" stroke-width="2.2"/>
<path d="M791.1 1127.3V1138.1M785.7 1132.7H796.5M791.3 1129.3V1140.1M785.9 1134.7H796.7M791.7 1132.7V1143.5M786.3 1138.1H797.1M793.0 1146.4V1157.2M787.6 1151.8H798.4M793.6 1156.7V1167.5M788.2 1162.1H799.0M793.8 1159.7V1170.5M788.4 1165.1H799.2M796.2 1190.1V1200.9M790.8 1195.5H801.6M796.4 1193.0V1203.8M791.0 1198.4H801.8M797.1 1201.4V1212.2M791.7 1206.8H802.5M797.4 1204.8V1215.6M792.0 1210.2H802.8M797.9 1209.2V1220.0M792.5 1214.6H803.3M798.4 1214.6V1225.4M793.0 1220.0H803.8M800.1 1231.3V1242.1M794.7 1236.7H805.5M802.1 1251.4V1262.2M796.7 1256.8H807.5M804.7 1279.0V1289.8M799.3 1284.4H810.1M805.3 1287.4V1298.2M799.9 1292.8H810.7M806.0 1296.2V1307.0M800.6 1301.6H811.4M807.6 1312.7V1323.5M802.2 1318.1H813.0M811.1 1337.9V1348.7M805.7 1343.3H816.5M812.8 1353.6V1364.4M807.4 1359.0H818.2M816.4 1367.8V1378.6M811.0 1373.2H821.8M818.0 1371.3V1382.1M812.6 1376.7H823.4M824.4 1382.1V1392.9M819.0 1387.5H829.8M828.9 1389.7V1400.5M823.5 1395.1H834.3M833.8 1396.4V1407.2M828.4 1401.8H839.2M839.2 1401.2V1412.0M833.8 1406.6H844.6M843.6 1403.4V1414.2M838.2 1408.8H849.0M848.0 1404.3V1415.1M842.6 1409.7H853.4M850.0 1404.6V1415.4M844.6 1410.0H855.4M851.9 1405.5V1416.3M846.5 1410.9H857.3M855.4 1407.0V1417.8M850.0 1412.4H860.8M862.2 1408.9V1419.7M856.8 1414.3H867.6M873.5 1411.5V1422.3M868.1 1416.9H878.9M879.4 1412.4V1423.2M874.0 1417.8H884.8M883.3 1413.0V1423.8M877.9 1418.4H888.7M887.2 1414.1V1424.9M881.8 1419.5H892.6M891.7 1415.5V1426.3M886.3 1420.9H897.1M893.6 1415.9V1426.7M888.2 1421.3H899.0M900.0 1415.9V1426.7M894.6 1421.3H905.4M914.2 1416.3V1427.1M908.8 1421.7H919.6M917.2 1418.7V1429.5M911.8 1424.1H922.6M921.6 1422.3V1433.1M916.2 1427.7H927.0M934.2 1422.3V1433.1M928.8 1427.7H939.6M942.7 1422.3V1433.1M937.3 1427.7H948.1M960.5 1422.6V1433.4M955.1 1428.0H965.9M965.8 1422.6V1433.4M960.4 1428.0H971.2M969.6 1422.6V1433.4M964.2 1428.0H975.0M982.5 1422.6V1433.4M977.1 1428.0H987.9M984.8 1422.6V1433.4M979.4 1428.0H990.2M987.4 1422.6V1433.4M982.0 1428.0H992.8M997.7 1422.6V1433.4M992.3 1428.0H1003.1M1005.3 1422.6V1433.4M999.9 1428.0H1010.7M1011.4 1422.6V1433.4M1006.0 1428.0H1016.8M1030.4 1422.6V1433.4M1025.0 1428.0H1035.8M1032.7 1422.6V1433.4M1027.3 1428.0H1038.1M1035.3 1422.6V1433.4M1029.9 1428.0H1040.7M1054.7 1422.6V1433.4M1049.3 1428.0H1060.1M1054.9 1422.6V1433.4M1049.5 1428.0H1060.3M1071.0 1422.6V1433.4M1065.6 1428.0H1076.4M1078.4 1422.6V1433.4M1073.0 1428.0H1083.8M1084.1 1422.6V1433.4M1078.7 1428.0H1089.5M1086.3 1422.6V1433.4M1080.9 1428.0H1091.7M1090.1 1422.6V1433.4M1084.7 1428.0H1095.5M1101.8 1422.6V1433.4M1096.4 1428.0H1107.2M1103.8 1422.6V1433.4M1098.4 1428.0H1109.2M1113.2 1422.6V1433.4M1107.8 1428.0H1118.6M1171.4 1422.6V1433.4M1166.0 1428.0H1176.8M1175.7 1422.6V1433.4M1170.3 1428.0H1181.1M1179.9 1422.6V1433.4M1174.5 1428.0H1185.3M1207.4 1422.6V1433.4M1202.0 1428.0H1212.8M1271.7 1422.6V1433.4M1266.3 1428.0H1277.1" fill="none" stroke="#3DAA55" stroke-width="2.2"/>
<path d="M763.55 1085.0V1502.6H1310.9" fill="none" stroke="#000" stroke-width="2.4" stroke-linejoin="miter"/>
<path d="M763.55 1483.4H757.9M763.55 1388.5H757.9M763.55 1293.7H757.9M763.55 1198.8H757.9M763.55 1103.9H757.9M789.2 1502.6V1508.2M911.2 1502.6V1508.2M1033.3 1502.6V1508.2M1155.3 1502.6V1508.2M1277.4 1502.6V1508.2" fill="none" stroke="#000" stroke-width="2.2"/>
<text transform="translate(754.6999999999999 1491.3) scale(1.0 1.06)" font-size="19.0" text-anchor="end" fill="#000" stroke="#000" stroke-width="0.5">0%</text>
<text transform="translate(754.6999999999999 1396.4) scale(1.0 1.06)" font-size="19.0" text-anchor="end" fill="#000" stroke="#000" stroke-width="0.5">25%</text>
<text transform="translate(754.6999999999999 1301.6) scale(1.0 1.06)" font-size="19.0" text-anchor="end" fill="#000" stroke="#000" stroke-width="0.5">50%</text>
<text transform="translate(754.6999999999999 1206.7) scale(1.0 1.06)" font-size="19.0" text-anchor="end" fill="#000" stroke="#000" stroke-width="0.5">75%</text>
<text transform="translate(754.6999999999999 1111.8) scale(1.0 1.06)" font-size="19.0" text-anchor="end" fill="#000" stroke="#000" stroke-width="0.5">100%</text>
<text transform="translate(789.2 1526.2) scale(1.0 1.06)" font-size="19.1" text-anchor="middle" fill="#000" stroke="#000" stroke-width="0.5">0</text>
<text transform="translate(911.2 1526.2) scale(1.0 1.06)" font-size="19.1" text-anchor="middle" fill="#000" stroke="#000" stroke-width="0.5">72</text>
<text transform="translate(1033.3 1526.2) scale(1.0 1.06)" font-size="19.1" text-anchor="middle" fill="#000" stroke="#000" stroke-width="0.5">144</text>
<text transform="translate(1155.3 1526.2) scale(1.0 1.06)" font-size="19.1" text-anchor="middle" fill="#000" stroke="#000" stroke-width="0.5">216</text>
<text transform="translate(1277.4 1526.2) scale(1.0 1.06)" font-size="19.1" text-anchor="middle" fill="#000" stroke="#000" stroke-width="0.5">288</text>
<text transform="translate(1043.2 1552.5) scale(0.9911111111111112 1.0001)" font-size="22.5" text-anchor="middle" fill="#000" stroke="#000" stroke-width="0.5">Months since diagnosis</text>
<text transform="translate(696.9 1293.2) rotate(-90) scale(1.0 1.05)" font-size="22.4" text-anchor="middle" fill="#000" stroke="#000" stroke-width="0.5">EFS</text>
<text transform="translate(788.6 1470.8) scale(1.0 1.04)" font-size="22.8" fill="#000" stroke="#000" stroke-width="0.5">p = 0.0029</text>
<line x1="1229.1" y1="1398.6" x2="1229.1" y2="1426.0" stroke="#000" stroke-width="1.7" stroke-dasharray="4.6 4.2"/>
<text x="1236.4" y="1415.6" font-size="15.7" fill="#000" stroke="#000" stroke-width="0.3"><tspan font-style="italic">p</tspan>=0.77</text>
<text transform="translate(844.2 1596.6) scale(0.99 1.0001)" font-size="25.7" fill="#000" stroke="#000" stroke-width="0.5">Number at risk</text>
<path d="M843.5 1610.6V1666.2H1310.9" fill="none" stroke="#000" stroke-width="2.4" stroke-linejoin="miter"/>
<path d="M843.5 1621.2H838.1M843.5 1638.3H838.1M843.5 1655.5H838.1M865.8 1666.2V1671.8M970.3 1666.2V1671.8M1074.7 1666.2V1671.8M1179.4 1666.2V1671.8M1283.9 1666.2V1671.8" fill="none" stroke="#333" stroke-width="2.2"/>
<text transform="translate(838.6 1627.6) scale(0.99 1.05)" font-size="19.5" text-anchor="end" fill="#0868AC" stroke="#0868AC" stroke-width="0.35">NPM1/ITD</text>
<text transform="translate(839.4 1644.7) scale(0.99 1.05)" font-size="19.55" text-anchor="end" fill="#B93A2A" stroke="#B93A2A" stroke-width="0.35">NPM1/ITD/DTA</text>
<text transform="translate(836.8 1661.9) scale(0.99 1.0001)" font-size="19.4" text-anchor="end" fill="#3DAA55" stroke="#3DAA55" stroke-width="0.35">ELN adverse</text>
<text transform="translate(865.8 1629.2) scale(1.0 1.05)" font-size="20.0" text-anchor="middle" fill="#000" stroke="#000" stroke-width="0.5">38</text>
<text transform="translate(970.3 1629.2) scale(1.0 1.05)" font-size="20.0" text-anchor="middle" fill="#000" stroke="#000" stroke-width="0.5">8</text>
<text transform="translate(1074.7 1629.2) scale(1.0 1.05)" font-size="20.0" text-anchor="middle" fill="#000" stroke="#000" stroke-width="0.5">4</text>
<text transform="translate(1179.4 1629.2) scale(1.0 1.05)" font-size="20.0" text-anchor="middle" fill="#000" stroke="#000" stroke-width="0.5">2</text>
<text transform="translate(1283.9 1629.2) scale(1.0 1.05)" font-size="20.0" text-anchor="middle" fill="#000" stroke="#000" stroke-width="0.5">0</text>
<text transform="translate(865.8 1646.4) scale(1.0 1.05)" font-size="20.0" text-anchor="middle" fill="#000" stroke="#000" stroke-width="0.5">57</text>
<text transform="translate(970.3 1646.4) scale(1.0 1.05)" font-size="20.0" text-anchor="middle" fill="#000" stroke="#000" stroke-width="0.5">6</text>
<text transform="translate(1074.7 1646.4) scale(1.0 1.05)" font-size="20.0" text-anchor="middle" fill="#000" stroke="#000" stroke-width="0.5">4</text>
<text transform="translate(1179.4 1646.4) scale(1.0 1.05)" font-size="20.0" text-anchor="middle" fill="#000" stroke="#000" stroke-width="0.5">2</text>
<text transform="translate(1283.9 1646.4) scale(1.0 1.05)" font-size="20.0" text-anchor="middle" fill="#000" stroke="#000" stroke-width="0.5">0</text>
<text transform="translate(865.8 1663.7) scale(1.0 1.05)" font-size="20.0" text-anchor="middle" fill="#000" stroke="#000" stroke-width="0.5">407</text>
<text transform="translate(970.3 1663.7) scale(1.0 1.05)" font-size="20.0" text-anchor="middle" fill="#000" stroke="#000" stroke-width="0.5">38</text>
<text transform="translate(1074.7 1663.7) scale(1.0 1.05)" font-size="20.0" text-anchor="middle" fill="#000" stroke="#000" stroke-width="0.5">16</text>
<text transform="translate(1179.4 1663.7) scale(1.0 1.05)" font-size="20.0" text-anchor="middle" fill="#000" stroke="#000" stroke-width="0.5">5</text>
<text transform="translate(1283.9 1663.7) scale(1.0 1.05)" font-size="20.0" text-anchor="middle" fill="#000" stroke="#000" stroke-width="0.5">0</text>
<text transform="translate(865.8 1691.1) scale(1.0 1.06)" font-size="19.1" text-anchor="middle" fill="#000" stroke="#000" stroke-width="0.5">0</text>
<text transform="translate(970.3 1691.1) scale(1.0 1.06)" font-size="19.1" text-anchor="middle" fill="#000" stroke="#000" stroke-width="0.5">72</text>
<text transform="translate(1074.7 1691.1) scale(1.0 1.06)" font-size="19.1" text-anchor="middle" fill="#000" stroke="#000" stroke-width="0.5">144</text>
<text transform="translate(1179.4 1691.1) scale(1.0 1.06)" font-size="19.1" text-anchor="middle" fill="#000" stroke="#000" stroke-width="0.5">216</text>
<text transform="translate(1283.9 1691.1) scale(1.0 1.06)" font-size="19.1" text-anchor="middle" fill="#000" stroke="#000" stroke-width="0.5">288</text>
<text transform="translate(1083.6 1716.4) scale(0.99 1.0001)" font-size="22.5" text-anchor="middle" fill="#000" stroke="#000" stroke-width="0.5">Months since diagnosis</text>
</g>
<text transform="translate(666.00 1054.96) scale(0.4216 0.4742)" font-size="100" font-weight="bold" fill="#231815">(</text>
<text transform="translate(682.27 1055.32) scale(0.4451 0.4929)" font-size="100" font-weight="bold" fill="#231815">C</text>
<text transform="translate(717.46 1054.96) scale(0.4216 0.4742)" font-size="100" font-weight="bold" fill="#231815">)</text>
<g id="panelD">
<path d="M1432.3 1098.7L1433.7 1114.4L1437.2 1121.3L1437.5 1134.1L1439.1 1135.0L1439.6 1145.8L1440.6 1146.8L1441.1 1163.5L1441.4 1183.1L1442.8 1184.1L1443.6 1193.9L1444.3 1194.9L1444.5 1207.2L1466.1 1207.2L1466.1 1220.4L1468.1 1221.4L1468.1 1248.4L1513.7 1248.4L1513.6 1250.0L1513.6 1262.3L1662.8 1261.8L1662.8 1306.5L1908.2 1306.7" fill="none" stroke="#0868AC" stroke-width="4.7" stroke-linejoin="round" stroke-linecap="butt"/>
<path d="M1431.3 1098.7L1431.0 1106.8L1431.6 1114.4L1434.7 1132.1L1435.5 1143.9L1435.7 1158.6L1436.2 1173.3L1436.5 1188.0L1437.2 1202.8L1440.1 1217.5L1442.1 1232.2L1446.0 1237.1L1449.4 1238.1L1449.4 1246.9L1451.9 1247.9L1452.9 1255.1L1451.8 1250.0L1452.3 1265.2L1455.7 1265.2L1455.7 1283.9L1462.1 1283.9L1462.1 1295.1L1465.7 1295.1L1465.7 1305.9L1476.3 1305.9L1476.3 1316.7L1488.6 1316.7L1488.6 1328.5L1507.2 1328.5L1507.2 1340.8L1522.4 1340.8L1522.4 1354.0L1529.8 1354.0L1529.8 1364.8L1534.2 1365.8L1534.2 1379.5L1687.1 1379.7L1687.1 1396.8L1918.8 1397.0L1918.8 1484.1" fill="none" stroke="#B93A2A" stroke-width="4.7" stroke-linejoin="round" stroke-linecap="butt"/>
<path d="M1431.6 1098.7L1432.0 1114.4L1433.2 1129.2L1434.2 1143.9L1435.2 1158.6L1436.7 1173.3L1438.2 1188.0L1439.6 1202.8L1441.1 1217.5L1442.4 1232.2L1444.0 1246.9L1444.9 1250.0L1445.9 1259.8L1448.3 1274.5L1450.8 1287.3L1453.7 1301.0L1458.6 1306.9L1461.6 1316.7L1465.5 1325.6L1471.4 1330.5L1477.3 1334.4L1486.1 1337.3L1491.0 1343.2L1500.8 1346.2L1506.7 1350.1L1510.7 1356.5L1519.5 1357.9L1523.4 1362.9L1528.3 1368.7L1534.2 1369.7L1554.8 1369.7L1558.7 1374.6L1562.7 1376.6L1572.5 1376.6L1577.4 1381.5L1581.3 1383.0L1590.0 1383.0L1594.4 1386.2L1612.7 1386.7L1615.7 1388.2L1646.1 1388.2L1652.2 1396.1L1662.8 1396.1L1665.1 1399.9L1696.2 1399.9L1697.8 1399.7L1697.8 1404.3L1839.8 1404.3L1839.8 1424.4L1874.8 1424.4L1874.8 1454.4L1912.7 1454.4" fill="none" stroke="#3DAA55" stroke-width="4.7" stroke-linejoin="round" stroke-linecap="butt"/>
<path d="M1448.5 1201.8V1212.6M1443.1 1207.2H1453.9M1459.0 1201.8V1212.6M1453.6 1207.2H1464.4M1464.9 1201.8V1212.6M1459.5 1207.2H1470.3M1466.1 1201.8V1212.6M1460.7 1207.2H1471.5M1517.7 1256.9V1267.7M1512.3 1262.3H1523.1M1530.1 1256.9V1267.7M1524.7 1262.3H1535.5M1535.7 1256.9V1267.7M1530.3 1262.3H1541.1M1538.9 1256.9V1267.7M1533.5 1262.3H1544.3M1549.9 1256.9V1267.7M1544.5 1262.3H1555.3M1562.0 1256.9V1267.7M1556.6 1262.3H1567.4M1565.1 1256.9V1267.7M1559.7 1262.3H1570.5M1617.5 1256.4V1267.2M1612.1 1261.8H1622.9M1631.4 1256.4V1267.2M1626.0 1261.8H1636.8M1708.0 1301.3V1312.1M1702.6 1306.7H1713.4M1732.3 1301.3V1312.1M1726.9 1306.7H1737.7M1820.1 1301.3V1312.1M1814.7 1306.7H1825.5M1908.2 1301.3V1312.1M1902.8 1306.7H1913.6" fill="none" stroke="#0868AC" stroke-width="2.2"/>
<path d="M1431.0 1101.4V1112.2M1425.6 1106.8H1436.4M1434.7 1127.7V1138.5M1429.3 1133.1H1440.1M1441.4 1223.9V1234.7M1436.0 1229.3H1446.8M1450.4 1242.5V1253.3M1445.0 1247.9H1455.8M1458.6 1278.5V1289.3M1453.2 1283.9H1464.0M1468.0 1289.7V1300.5M1462.6 1295.1H1473.4M1470.7 1300.5V1311.3M1465.3 1305.9H1476.1M1476.6 1311.3V1322.1M1471.2 1316.7H1482.0M1516.8 1335.4V1346.2M1511.4 1340.8H1522.2M1556.3 1374.1V1384.9M1550.9 1379.5H1561.7M1618.3 1374.3V1385.1M1612.9 1379.7H1623.7M1691.4 1391.6V1402.4M1686.0 1397.0H1696.8M1720.3 1391.6V1402.4M1714.9 1397.0H1725.7M1793.8 1391.6V1402.4M1788.4 1397.0H1799.2M1858.5 1391.6V1402.4M1853.1 1397.0H1863.9" fill="none" stroke="#B93A2A" stroke-width="2.2"/>
<path d="M1431.6 1095.8V1106.6M1426.2 1101.2H1437.0M1433.3 1124.7V1135.5M1427.9 1130.1H1438.7M1436.2 1163.5V1174.3M1430.8 1168.9H1441.6M1436.5 1166.4V1177.2M1431.1 1171.8H1441.9M1437.3 1174.3V1185.1M1431.9 1179.7H1442.7M1438.4 1185.1V1195.9M1433.0 1190.5H1443.8M1438.6 1187.5V1198.3M1433.2 1192.9H1444.0M1439.8 1198.8V1209.6M1434.4 1204.2H1445.2M1440.4 1204.9V1215.7M1435.0 1210.3H1445.8M1441.4 1216.0V1226.8M1436.0 1221.4H1446.8M1443.2 1233.7V1244.5M1437.8 1239.1H1448.6M1444.0 1241.5V1252.3M1438.6 1246.9H1449.4M1446.1 1255.4V1266.2M1440.7 1260.8H1451.5M1447.8 1265.7V1276.5M1442.4 1271.1H1453.2M1450.8 1281.7V1292.5M1445.4 1287.1H1456.2M1455.8 1298.1V1308.9M1450.4 1303.5H1461.2M1460.1 1306.4V1317.2M1454.7 1311.8H1465.5M1464.5 1318.0V1328.8M1459.1 1323.4H1469.9M1470.4 1324.3V1335.1M1465.0 1329.7H1475.8M1477.3 1329.0V1339.8M1471.9 1334.4H1482.7M1479.3 1329.7V1340.5M1473.9 1335.1H1484.7M1488.1 1334.3V1345.1M1482.7 1339.7H1493.5M1491.0 1337.8V1348.6M1485.6 1343.2H1496.4M1493.5 1338.6V1349.4M1488.1 1344.0H1498.9M1498.9 1340.2V1351.0M1493.5 1345.6H1504.3M1502.8 1342.1V1352.9M1497.4 1347.5H1508.2M1504.8 1343.4V1354.2M1499.4 1348.8H1510.2M1511.1 1351.2V1362.0M1505.7 1356.6H1516.5M1519.0 1352.5V1363.3M1513.6 1357.9H1524.4M1520.5 1353.8V1364.6M1515.1 1359.2H1525.9M1525.9 1360.4V1371.2M1520.5 1365.8H1531.3M1530.3 1363.7V1374.5M1524.9 1369.1H1535.7M1534.2 1364.3V1375.1M1528.8 1369.7H1539.6M1536.7 1364.3V1375.1M1531.3 1369.7H1542.1M1544.0 1364.3V1375.1M1538.6 1369.7H1549.4M1556.8 1366.8V1377.6M1551.4 1372.2H1562.2M1561.7 1370.7V1381.5M1556.3 1376.1H1567.1M1567.6 1371.2V1382.0M1562.2 1376.6H1573.0M1581.3 1377.6V1388.4M1575.9 1383.0H1586.7M1597.5 1380.9V1391.7M1592.1 1386.3H1602.9M1602.0 1381.0V1391.8M1596.6 1386.4H1607.4M1606.6 1381.1V1391.9M1601.2 1386.5H1612.0M1609.6 1381.2V1392.0M1604.2 1386.6H1615.0M1623.3 1382.8V1393.6M1617.9 1388.2H1628.7M1625.6 1382.8V1393.6M1620.2 1388.2H1631.0M1627.9 1382.8V1393.6M1622.5 1388.2H1633.3M1636.2 1382.8V1393.6M1630.8 1388.2H1641.6M1640.0 1382.8V1393.6M1634.6 1388.2H1645.4M1651.4 1389.7V1400.5M1646.0 1395.1H1656.8M1671.9 1394.5V1405.3M1666.5 1399.9H1677.3M1675.7 1394.5V1405.3M1670.3 1399.9H1681.1M1685.6 1394.5V1405.3M1680.2 1399.9H1691.0M1688.6 1394.5V1405.3M1683.2 1399.9H1694.0M1676.5 1394.3V1405.1M1671.1 1399.7H1681.9M1684.9 1394.3V1405.1M1679.5 1399.7H1690.3M1688.7 1394.3V1405.1M1683.3 1399.7H1694.1M1711.8 1398.9V1409.7M1706.4 1404.3H1717.2M1719.8 1398.9V1409.7M1714.4 1404.3H1725.2M1723.9 1398.9V1409.7M1718.5 1404.3H1729.3M1725.9 1398.9V1409.7M1720.5 1404.3H1731.3M1728.2 1398.9V1409.7M1722.8 1404.3H1733.6M1740.6 1398.9V1409.7M1735.2 1404.3H1746.0M1742.6 1398.9V1409.7M1737.2 1404.3H1748.0M1748.2 1398.9V1409.7M1742.8 1404.3H1753.6M1751.7 1398.9V1409.7M1746.3 1404.3H1757.1M1811.7 1398.9V1409.7M1806.3 1404.3H1817.1M1813.2 1398.9V1409.7M1807.8 1404.3H1818.6M1814.8 1398.9V1409.7M1809.4 1404.3H1820.2M1846.7 1419.0V1429.8M1841.3 1424.4H1852.1M1912.7 1449.0V1459.8M1907.3 1454.4H1918.1" fill="none" stroke="#3DAA55" stroke-width="2.2"/>
<path d="M1405.4 1079.6V1503.5H1965.9" fill="none" stroke="#000" stroke-width="2.4" stroke-linejoin="miter"/>
<path d="M1405.4 1484.2H1399.8M1405.4 1387.8H1399.8M1405.4 1291.5H1399.8M1405.4 1195.1H1399.8M1405.4 1098.8H1399.8M1430.9 1503.5V1509.1M1553.0 1503.5V1509.1M1675.1 1503.5V1509.1M1797.2 1503.5V1509.1M1919.3 1503.5V1509.1" fill="none" stroke="#000" stroke-width="2.2"/>
<text transform="translate(1396.7 1492.1) scale(1.0 1.06)" font-size="19.0" text-anchor="end" fill="#000" stroke="#000" stroke-width="0.5">0%</text>
<text transform="translate(1396.7 1395.7) scale(1.0 1.06)" font-size="19.0" text-anchor="end" fill="#000" stroke="#000" stroke-width="0.5">25%</text>
<text transform="translate(1396.7 1299.4) scale(1.0 1.06)" font-size="19.0" text-anchor="end" fill="#000" stroke="#000" stroke-width="0.5">50%</text>
<text transform="translate(1396.7 1203.0) scale(1.0 1.06)" font-size="19.0" text-anchor="end" fill="#000" stroke="#000" stroke-width="0.5">75%</text>
<text transform="translate(1396.7 1106.7) scale(1.0 1.06)" font-size="19.0" text-anchor="end" fill="#000" stroke="#000" stroke-width="0.5">100%</text>
<text transform="translate(1430.9 1526.2) scale(1.0 1.06)" font-size="19.1" text-anchor="middle" fill="#000" stroke="#000" stroke-width="0.5">0</text>
<text transform="translate(1553.0 1526.2) scale(1.0 1.06)" font-size="19.1" text-anchor="middle" fill="#000" stroke="#000" stroke-width="0.5">72</text>
<text transform="translate(1675.1 1526.2) scale(1.0 1.06)" font-size="19.1" text-anchor="middle" fill="#000" stroke="#000" stroke-width="0.5">144</text>
<text transform="translate(1797.2 1526.2) scale(1.0 1.06)" font-size="19.1" text-anchor="middle" fill="#000" stroke="#000" stroke-width="0.5">216</text>
<text transform="translate(1919.3 1526.2) scale(1.0 1.06)" font-size="19.1" text-anchor="middle" fill="#000" stroke="#000" stroke-width="0.5">288</text>
<text transform="translate(1685.7 1553.0) scale(0.9844444444444443 1.0001)" font-size="22.5" text-anchor="middle" fill="#000" stroke="#000" stroke-width="0.5">Months since diagnosis</text>
<text transform="translate(1338.9 1290.9) rotate(-90) scale(1.0 1.05)" font-size="22.4" text-anchor="middle" fill="#000" stroke="#000" stroke-width="0.5">RFS</text>
<text transform="translate(1428.6 1475.8) scale(1.0 1.04)" font-size="22.8" fill="#000" stroke="#000" stroke-width="0.5">p = 0.014</text>
<line x1="1908.5" y1="1398.8" x2="1908.5" y2="1452.4" stroke="#000" stroke-width="1.7" stroke-dasharray="4.6 4.2"/>
<text x="1922.4" y="1429.3" font-size="15.7" fill="#000" stroke="#000" stroke-width="0.3"><tspan font-style="italic">p</tspan>=0.58</text>
<text transform="translate(1485.6 1596.6) scale(0.983 1.0001)" font-size="25.7" fill="#000" stroke="#000" stroke-width="0.5">Number at risk</text>
<path d="M1485.0 1610.6V1669.2H1965.9" fill="none" stroke="#000" stroke-width="2.4" stroke-linejoin="miter"/>
<path d="M1485.0 1621.8H1479.6M1485.0 1640.0H1479.6M1485.0 1658.0H1479.6M1506.5 1669.2V1674.8M1611.4 1669.2V1674.8M1716.2 1669.2V1674.8M1821.1 1669.2V1674.8M1926.0 1669.2V1674.8" fill="none" stroke="#333" stroke-width="2.2"/>
<text transform="translate(1479.5 1628.2) scale(0.983 1.05)" font-size="19.5" text-anchor="end" fill="#0868AC" stroke="#0868AC" stroke-width="0.35">NPM1/ITD</text>
<text transform="translate(1480.3 1646.4) scale(0.983 1.05)" font-size="19.55" text-anchor="end" fill="#B93A2A" stroke="#B93A2A" stroke-width="0.35">NPM1/ITD/DTA</text>
<text transform="translate(1477.7 1664.4) scale(0.983 1.0001)" font-size="19.4" text-anchor="end" fill="#3DAA55" stroke="#3DAA55" stroke-width="0.35">ELN adverse</text>
<text transform="translate(1506.5 1629.7) scale(1.0 1.05)" font-size="20.0" text-anchor="middle" fill="#000" stroke="#000" stroke-width="0.5">32</text>
<text transform="translate(1611.4 1629.7) scale(1.0 1.05)" font-size="20.0" text-anchor="middle" fill="#000" stroke="#000" stroke-width="0.5">9</text>
<text transform="translate(1716.2 1629.7) scale(1.0 1.05)" font-size="20.0" text-anchor="middle" fill="#000" stroke="#000" stroke-width="0.5">4</text>
<text transform="translate(1821.1 1629.7) scale(1.0 1.05)" font-size="20.0" text-anchor="middle" fill="#000" stroke="#000" stroke-width="0.5">2</text>
<text transform="translate(1926.0 1629.7) scale(1.0 1.05)" font-size="20.0" text-anchor="middle" fill="#000" stroke="#000" stroke-width="0.5">0</text>
<text transform="translate(1506.5 1648.0) scale(1.0 1.05)" font-size="20.0" text-anchor="middle" fill="#000" stroke="#000" stroke-width="0.5">46</text>
<text transform="translate(1611.4 1648.0) scale(1.0 1.05)" font-size="20.0" text-anchor="middle" fill="#000" stroke="#000" stroke-width="0.5">8</text>
<text transform="translate(1716.2 1648.0) scale(1.0 1.05)" font-size="20.0" text-anchor="middle" fill="#000" stroke="#000" stroke-width="0.5">6</text>
<text transform="translate(1821.1 1648.0) scale(1.0 1.05)" font-size="20.0" text-anchor="middle" fill="#000" stroke="#000" stroke-width="0.5">2</text>
<text transform="translate(1926.0 1648.0) scale(1.0 1.05)" font-size="20.0" text-anchor="middle" fill="#000" stroke="#000" stroke-width="0.5">0</text>
<text transform="translate(1506.5 1666.1) scale(1.0 1.05)" font-size="20.0" text-anchor="middle" fill="#000" stroke="#000" stroke-width="0.5">258</text>
<text transform="translate(1611.4 1666.1) scale(1.0 1.05)" font-size="20.0" text-anchor="middle" fill="#000" stroke="#000" stroke-width="0.5">48</text>
<text transform="translate(1716.2 1666.1) scale(1.0 1.05)" font-size="20.0" text-anchor="middle" fill="#000" stroke="#000" stroke-width="0.5">20</text>
<text transform="translate(1821.1 1666.1) scale(1.0 1.05)" font-size="20.0" text-anchor="middle" fill="#000" stroke="#000" stroke-width="0.5">7</text>
<text transform="translate(1926.0 1666.1) scale(1.0 1.05)" font-size="20.0" text-anchor="middle" fill="#000" stroke="#000" stroke-width="0.5">0</text>
<text transform="translate(1506.5 1692.8) scale(1.0 1.06)" font-size="19.1" text-anchor="middle" fill="#000" stroke="#000" stroke-width="0.5">0</text>
<text transform="translate(1611.4 1692.8) scale(1.0 1.06)" font-size="19.1" text-anchor="middle" fill="#000" stroke="#000" stroke-width="0.5">72</text>
<text transform="translate(1716.2 1692.8) scale(1.0 1.06)" font-size="19.1" text-anchor="middle" fill="#000" stroke="#000" stroke-width="0.5">144</text>
<text transform="translate(1821.1 1692.8) scale(1.0 1.06)" font-size="19.1" text-anchor="middle" fill="#000" stroke="#000" stroke-width="0.5">216</text>
<text transform="translate(1926.0 1692.8) scale(1.0 1.06)" font-size="19.1" text-anchor="middle" fill="#000" stroke="#000" stroke-width="0.5">288</text>
<text transform="translate(1725.2 1719.0) scale(0.983 1.0001)" font-size="22.5" text-anchor="middle" fill="#000" stroke="#000" stroke-width="0.5">Months since diagnosis</text>
</g>
<text transform="translate(1330.80 1054.96) scale(0.4216 0.4742)" font-size="100" font-weight="bold" fill="#231815">(</text>
<text transform="translate(1346.98 1054.80) scale(0.4663 0.4942)" font-size="100" font-weight="bold" fill="#231815">D</text>
<text transform="translate(1382.46 1054.96) scale(0.4216 0.4742)" font-size="100" font-weight="bold" fill="#231815">)</text>
</svg>
</body>
</html>
